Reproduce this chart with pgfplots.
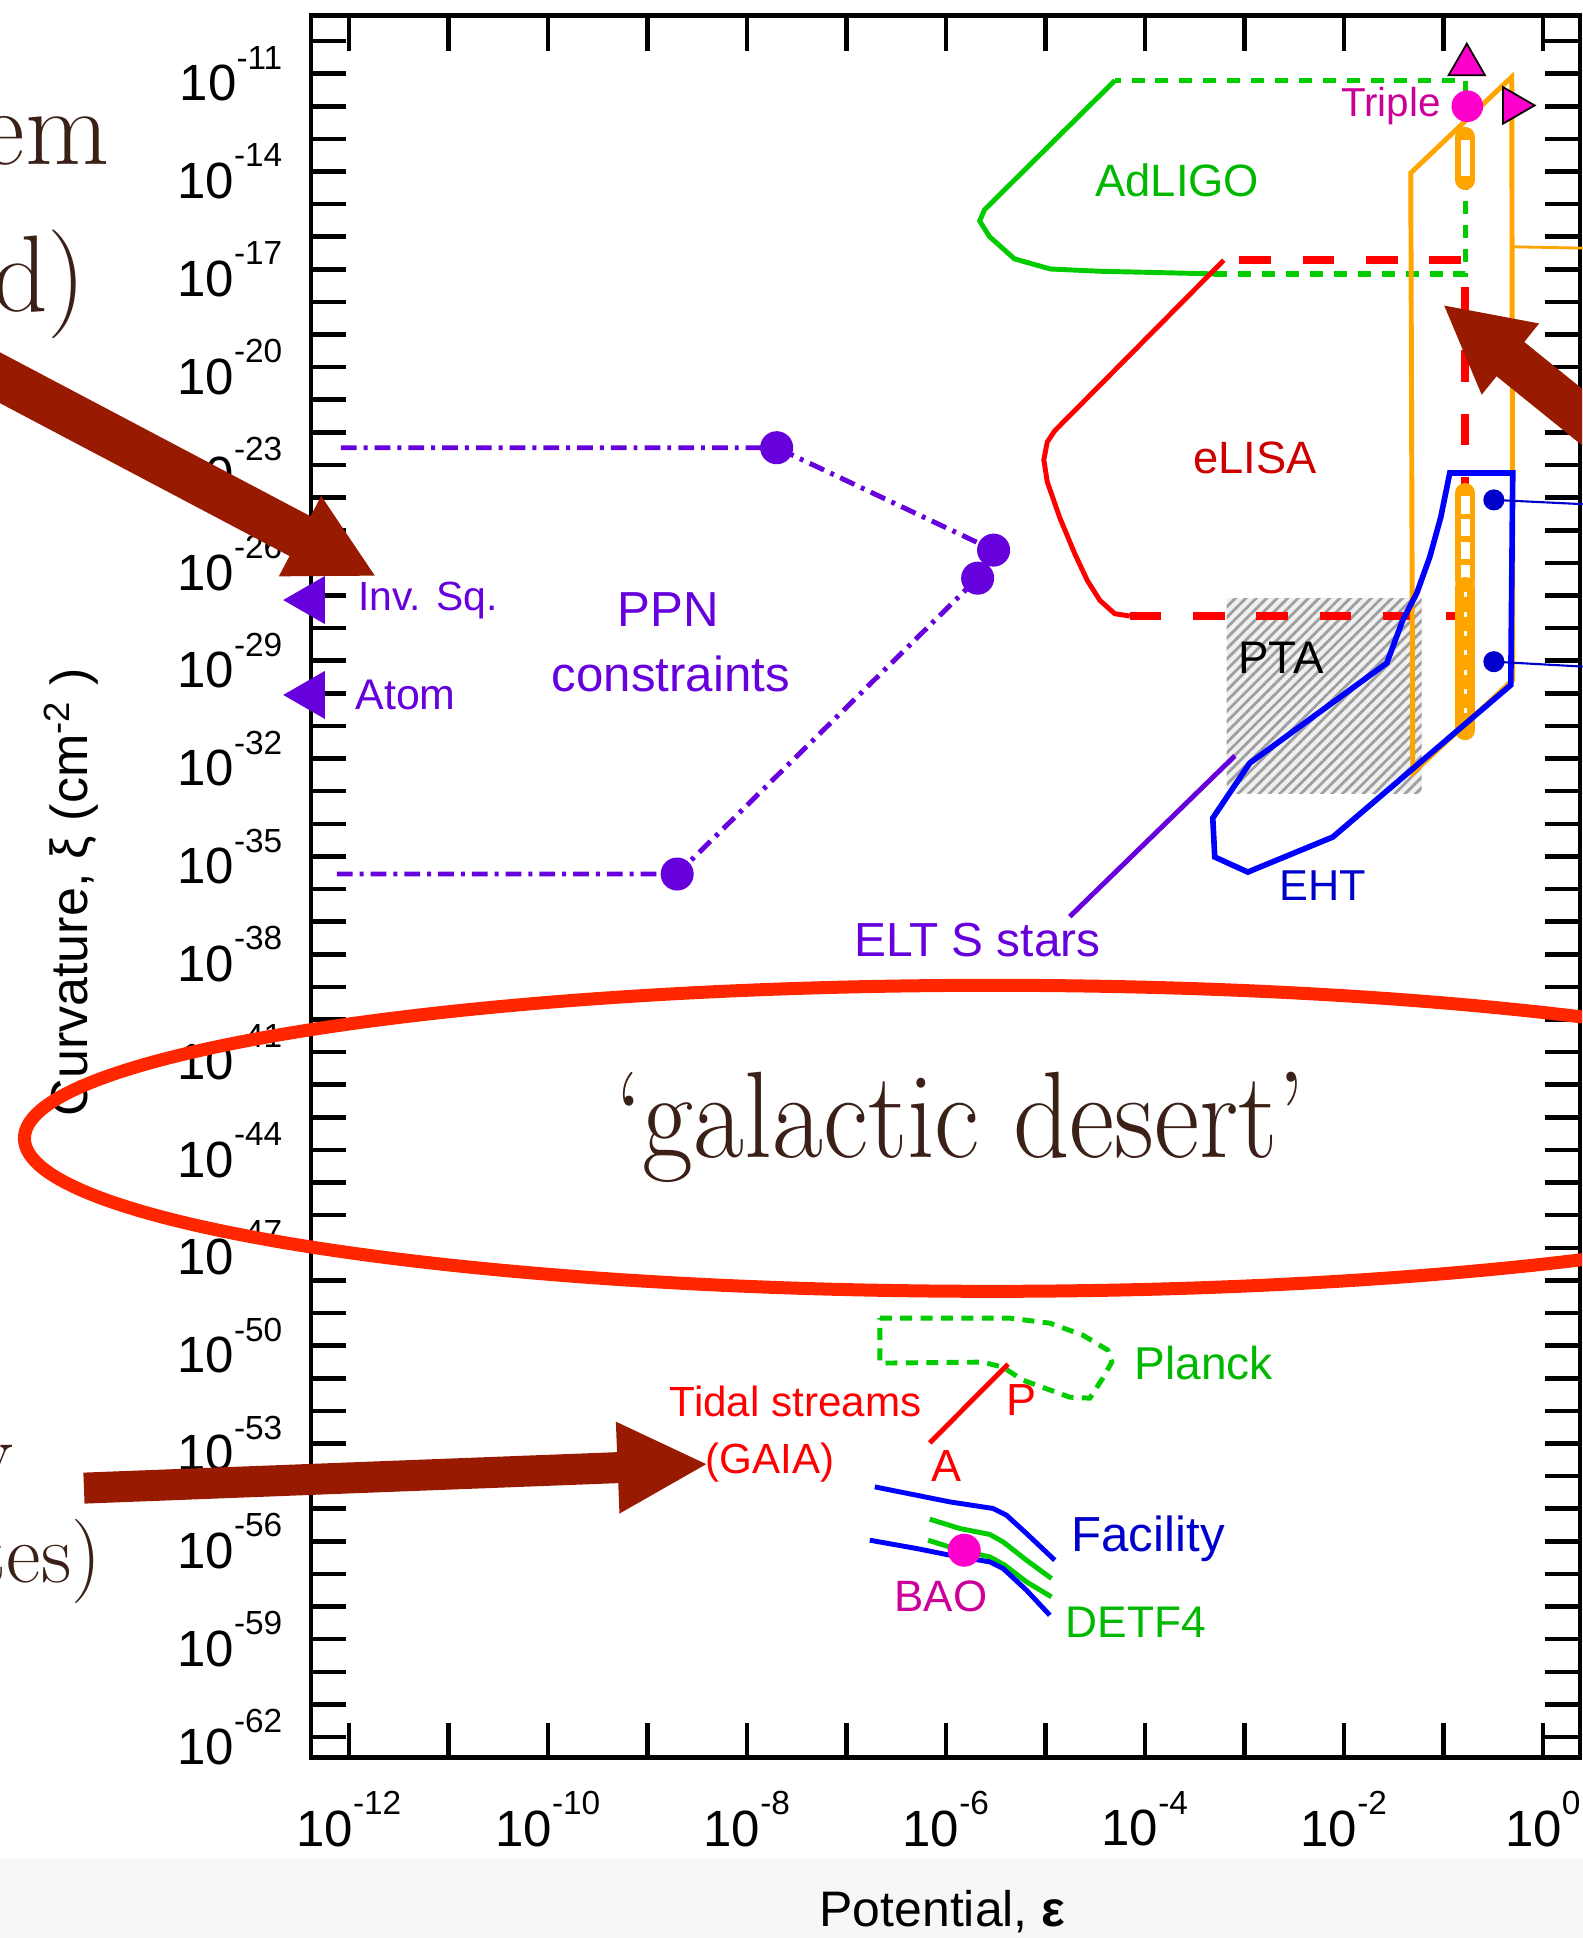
\documentclass[border=0pt]{standalone}
\usepackage{fontspec}
\setsansfont{Liberation Sans}
\usepackage{pgfplots}
\pgfplotsset{compat=1.18}
\usetikzlibrary{patterns.meta}
\definecolor{ppn}{RGB}{102,0,221}
\definecolor{lgreen}{RGB}{0,204,0}
\definecolor{lred}{RGB}{255,0,0}
\definecolor{dred}{RGB}{204,0,0}
\definecolor{mag}{RGB}{255,0,204}
\definecolor{dmag}{RGB}{204,0,153}
\definecolor{orng}{RGB}{255,165,0}
\definecolor{lblue}{RGB}{0,0,255}
\definecolor{dblue}{RGB}{0,0,204}
\definecolor{arrowred}{RGB}{152,26,0}
\definecolor{ellred}{RGB}{255,38,0}
\definecolor{brownt}{RGB}{58,32,22}
\definecolor{band}{RGB}{247,247,247}
\newcommand{\tl}[1]{\sffamily\fontsize{14.5}{14.5}\selectfont 10\raisebox{9pt}{\fontsize{9.5}{9.5}\selectfont #1}}
\newcommand{\fs}[1]{\sffamily\fontsize{#1}{#1}\selectfont}
\tikzset{lab/.style={inner sep=0pt}}
\begin{document}
\begin{tikzpicture}
\useasboundingbox (0,0) rectangle (15.83cm,19.38cm);
\fill[band] (0,0) rectangle (15.83cm,0.80cm);
\begin{axis}[
  at={(3.11cm,1.804cm)}, anchor=south west,
  scale only axis, width=12.69cm, height=17.42cm,
  xmin=-12.38, xmax=0.374, ymin=-62.63, ymax=-9.22,
  xtick={-12,...,0}, ytick={-62,...,-10},
  xticklabel={\pgfmathtruncatemacro\e{round(\tick)}\pgfmathtruncatemacro\m{mod(\e+12,2)}\ifnum\m=0 \tl{\e}\fi},
  yticklabel={\pgfmathtruncatemacro\e{round(\tick)}\pgfmathtruncatemacro\m{mod(\e+62,3)}\ifnum\m=0 \tl{\e}\fi},
  xticklabel style={anchor=north, inner sep=0pt, yshift=-0.33cm},
  yticklabel style={anchor=east, inner sep=0pt, xshift=-0.28cm},
  major tick length=0.35cm,
  every tick/.style={black, line width=1.3pt},
  axis line style={line width=1.4pt},
  clip=false,
]
% PTA hatched region
\addplot[draw=none, fill=gray!12] coordinates {(-3.179,-27.08) (-1.219,-27.08) (-1.219,-33.06) (-3.179,-33.06)} --cycle;
\addplot[draw=none, pattern={Lines[angle=45,distance=2.1pt,line width=0.8pt]}, pattern color=gray!75] coordinates {(-3.179,-27.08) (-1.219,-27.08) (-1.219,-33.06) (-3.179,-33.06)} --cycle;
% PPN constraints
\addplot[ppn, line width=1.4pt, dash pattern=on 4.5pt off 2pt on 1.1pt off 2pt] coordinates {(-12.08,-22.47) (-7.70,-22.47) (-5.52,-25.61)};
\addplot[ppn, line width=1.4pt, dash pattern=on 4.5pt off 2pt on 1.1pt off 2pt] coordinates {(-12.12,-35.54) (-8.70,-35.54) (-5.68,-26.47)};
\addplot[only marks, mark=*, mark size=4.5pt, ppn] coordinates {(-7.70,-22.47) (-5.52,-25.61) (-5.68,-26.47) (-8.70,-35.54)};
\addplot[only marks, mark=triangle*, mark size=7.5pt, ppn, mark options={rotate=90}] coordinates {(-12.38,-27.14) (-12.38,-30.05)};
% ELT S stars
\addplot[ppn, line width=1.4pt] coordinates {(-3.095,-31.917) (-4.754,-36.845)};
% AdLIGO
\addplot[lgreen, line width=1.4pt] coordinates {(-4.30,-11.21) (-5.61,-15.17) (-5.66,-15.52) (-5.56,-16.0) (-5.31,-16.68) (-4.95,-16.99) (-4.45,-17.06) (-3.30,-17.14)};
\addplot[lgreen, line width=1.5pt, dash pattern=on 3.7pt off 3.1pt] coordinates {(-3.30,-17.14) (-0.78,-17.14) (-0.78,-11.21) (-4.30,-11.21)};
% eLISA
\addplot[lred, line width=1.4pt] coordinates {(-3.206,-16.72) (-4.905,-21.95) (-4.980,-22.29) (-5.015,-22.84) (-4.980,-23.52) (-4.854,-24.62) (-4.704,-25.72) (-4.578,-26.54) (-4.452,-27.15) (-4.302,-27.56) (-4.151,-27.63)};
\addplot[lred, line width=2.2pt, dash pattern=on 9pt off 9pt] coordinates {(-4.151,-27.63) (-0.78,-27.63) (-0.78,-16.71) (-3.206,-16.71)};
% magenta dot (Triple)
\addplot[only marks, mark=*, mark size=4.3pt, mag] coordinates {(-0.759,-12.0)};
% orange region
\addplot[orng, line width=1.4pt] coordinates {(-1.327,-14.045) (-0.312,-11.10) (-0.302,-29.59) (-1.307,-32.44)} --cycle;
\addplot[orng, line width=0.8pt] coordinates {(-0.30,-16.31) (0.40,-16.35)};
% orange error columns
\addplot[orng, line width=5.7pt, line cap=round] coordinates {(-0.78,-12.94) (-0.78,-14.26)};
\addplot[white, line width=2.6pt] coordinates {(-0.78,-13.05) (-0.78,-14.15)};
\addplot[orng, line width=5.7pt, line cap=round] coordinates {(-0.78,-23.86) (-0.78,-26.53)};
\addplot[white, line width=2.6pt, dash pattern=on 5pt off 1.5pt] coordinates {(-0.78,-23.95) (-0.78,-26.45)};
\addplot[orng, line width=5.7pt, line cap=round] coordinates {(-0.78,-26.74) (-0.78,-31.13)};
\addplot[white, line width=0.8pt, dash pattern=on 1.5pt off 4pt] coordinates {(-0.78,-26.9) (-0.78,-31.0)};
% magenta triangles
\addplot[only marks, mark=triangle*, mark size=6pt, mark options={fill=mag, draw=black, line width=0.5pt}] coordinates {(-0.764,-10.73)};
\addplot[only marks, mark=triangle*, mark size=6pt, mark options={fill=mag, draw=black, line width=0.5pt, rotate=-90}] coordinates {(-0.294,-11.975)};
% EHT
\addplot[lblue, line width=1.6pt] coordinates {(-0.935,-23.245) (-0.302,-23.245) (-0.322,-29.746) (-2.111,-34.407) (-2.965,-35.480) (-3.297,-35.02) (-3.317,-33.824) (-2.945,-32.138) (-1.568,-29.071) (-1.407,-27.752) (-1.266,-26.924) (-1.136,-25.82) (-1.025,-24.594)} --cycle;
\addplot[dblue, line width=0.6pt] coordinates {(-0.492,-24.07) (0.40,-24.2)};
\addplot[dblue, line width=0.6pt] coordinates {(-0.492,-29.03) (0.40,-29.18)};
\addplot[only marks, mark=*, mark size=2.8pt, dblue] coordinates {(-0.492,-24.07) (-0.492,-29.03)};
% Planck
\addplot[lgreen, line width=1.4pt, dash pattern=on 3.4pt off 2.4pt] coordinates {(-6.663,-49.156) (-5.357,-49.156) (-4.955,-49.31) (-4.623,-49.678) (-4.372,-50.137) (-4.332,-50.505) (-4.422,-50.996) (-4.553,-51.61) (-4.754,-51.58) (-5.226,-51.057) (-5.427,-50.659) (-5.628,-50.505) (-6.663,-50.535)} --cycle;
% Tidal streams
\addplot[lred, line width=1.4pt] coordinates {(-6.161,-52.98) (-5.374,-50.567)};
% Facility / DETF4
\addplot[lblue, line width=1.4pt] coordinates {(-6.714,-54.33) (-6.295,-54.585) (-5.960,-54.79) (-5.525,-54.992) (-5.390,-55.198) (-5.189,-55.759) (-4.905,-56.578)};
\addplot[lgreen, line width=1.4pt] coordinates {(-6.161,-55.321) (-5.859,-55.606) (-5.558,-55.788) (-5.424,-56.017) (-5.189,-56.578) (-4.938,-57.139)};
\addplot[lgreen, line width=1.4pt] coordinates {(-6.178,-55.965) (-5.859,-56.272) (-5.558,-56.477) (-5.407,-56.731) (-5.189,-57.243) (-4.938,-57.703)};
\addplot[lblue, line width=1.4pt] coordinates {(-6.764,-55.965) (-6.295,-56.219) (-5.960,-56.424) (-5.558,-56.63) (-5.424,-56.833) (-5.189,-57.498) (-4.955,-58.264)};
\addplot[only marks, mark=*, mark size=4.5pt, mag] coordinates {(-5.815,-56.272)};
% labels
\node[lab, anchor=west, text=ppn, font=\fs{11.6}] at (axis cs:-11.91,-27.14) {Inv. Sq.};
\node[lab, anchor=west, text=ppn, font=\fs{12.2}] at (axis cs:-11.94,-30.05) {Atom};
\node[lab, text=ppn, font=\fs{14}] at (axis cs:-8.787,-27.42) {PPN};
\node[lab, text=ppn, font=\fs{14}] at (axis cs:-8.764,-29.40) {constraints};
\node[lab, text=lgreen!90!black, font=\fs{12.9}] at (axis cs:-3.673,-14.284) {AdLIGO};
\node[lab, text=dred, font=\fs{12.9}] at (axis cs:-2.894,-22.77) {eLISA};
\node[lab, anchor=east, text=dmag, font=\fs{11.5}] at (axis cs:-1.018,-11.99) {Triple};
\node[lab, text=black, font=\fs{13}] at (axis cs:-2.633,-28.90) {PTA};
\node[lab, text=dblue, font=\fs{12.3}] at (axis cs:-2.211,-35.91) {EHT};
\node[lab, text=ppn, font=\fs{13.6}] at (axis cs:-5.683,-37.55) {ELT S stars};
\node[lab, text=lgreen!90!black, font=\fs{13.1}] at (axis cs:-3.407,-50.54) {Planck};
\node[lab, text=lred, font=\fs{12}] at (axis cs:-7.510,-51.72) {Tidal streams};
\node[lab, text=lred, font=\fs{12}] at (axis cs:-7.769,-53.57) {(GAIA)};
\node[lab, text=lred, font=\fs{12.8}] at (axis cs:-5.239,-51.67) {P};
\node[lab, text=lred, font=\fs{12.8}] at (axis cs:-5.995,-53.70) {A};
\node[lab, text=dblue, font=\fs{14}] at (axis cs:-3.967,-55.93) {Facility};
\node[lab, text=lgreen!90!black, font=\fs{12.6}] at (axis cs:-4.090,-58.48) {DETF4};
\node[lab, text=dmag, font=\fs{12.5}] at (axis cs:-6.050,-57.70) {BAO};
\end{axis}
\begin{scope}[shift={(0,19.38cm)}, x=0.01cm, y=-0.01cm]
\clip (0,0) rectangle (1583,1938);
% axis titles
\node[rotate=90, anchor=base, inner sep=0pt, font=\fs{14.8}] at (88,893) {Curvature, ξ (cm\textsuperscript{-2} )};
\node[anchor=base, inner sep=0pt, font=\fs{14.2}] at (943,1928) {Potential, {\bfseries ε}};
% slide text fragments
\node[anchor=base east, inner sep=0pt, text=brownt, font=\rmfamily\fontsize{31}{31}\selectfont] at (110,165) {em};
\node[anchor=base east, inner sep=0pt, text=brownt, font=\rmfamily\fontsize{31}{31}\selectfont] at (87,312) {d)};
\node[anchor=base east, inner sep=0pt, text=brownt, font=\rmfamily\fontsize{24}{24}\selectfont] at (14,1482) {y};
\node[anchor=base east, inner sep=0pt, text=brownt, font=\rmfamily\fontsize{24}{24}\selectfont] at (102,1583) {tes)};
\node[anchor=base, inner sep=0pt, text=brownt] at (961,1158) {\scalebox{0.9}[1]{\rmfamily\fontsize{35}{35}\selectfont ‘galactic desert'}};
% arrows
\fill[arrowred] (-39.5,331.7) -- (310.7,516.6) -- (321.4,496.3) -- (375,576) -- (279.0,576.7) -- (289.7,556.4) -- (-60.5,371.5) -- cycle;
\fill[arrowred] (83.4,1473.5) -- (617.4,1453) -- (616.2,1422.5) -- (706.6,1465) -- (619.8,1514.5) -- (618.6,1484) -- (84.6,1504.5) -- cycle;
\fill[arrowred] (1641.7,436.5) -- (1525.1,342.2) -- (1540,323.7) -- (1445,305.8) -- (1482.5,395) -- (1497.4,376.5) -- (1614.1,470.7) -- cycle;
% galactic desert ellipse
\draw[ellred, line width=0.13cm] (993,1139) ellipse [x radius=9.68cm, y radius=1.53cm];
\end{scope}
\end{tikzpicture}
\end{document}
